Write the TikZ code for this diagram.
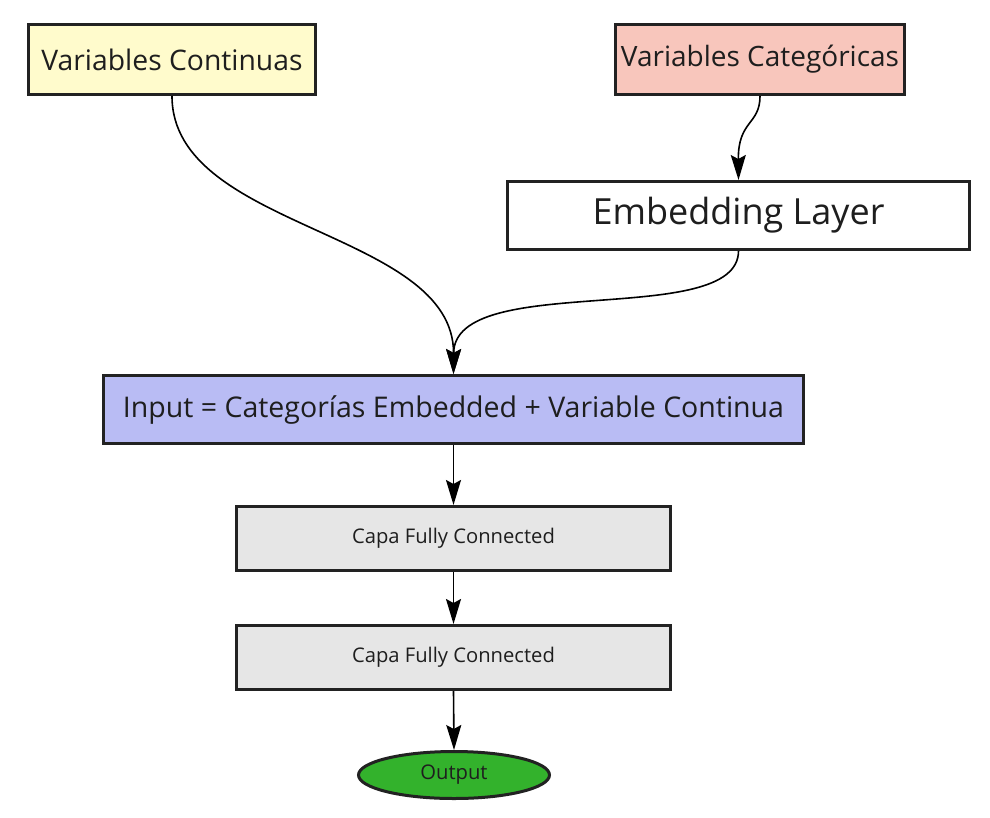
\documentclass[tikz,border=0pt]{standalone}
\usepackage{fontspec}
\setmainfont{Open Sans}
\usetikzlibrary{arrows.meta,shapes.geometric}
\definecolor{cyellow}{RGB}{255,251,204}
\definecolor{cpink}{RGB}{248,198,188}
\definecolor{cblue}{RGB}{185,188,244}
\definecolor{cgray}{RGB}{230,230,230}
\definecolor{cgreen}{RGB}{51,178,44}
\definecolor{cborder}{RGB}{34,34,34}
\definecolor{ctext}{RGB}{30,30,30}
\tikzset{
  box/.style={draw=cborder, line width=3pt, rectangle, inner sep=0pt, text=ctext, align=center},
  conn/.style={line width=1.6pt, -{Stealth[length=25pt,width=15pt,inset=4pt]}},
}
\begin{document}
\begin{tikzpicture}[x=1pt,y=-1pt]
\useasboundingbox (0,0) rectangle (990,817);
\node[box, fill=cyellow, minimum width=287pt, minimum height=70pt, font=\fontsize{28.3}{32}\selectfont] (cont) at (172,59.5) {Variables Continuas};
\node[box, fill=cpink, minimum width=289pt, minimum height=70pt, font=\fontsize{28}{32}\selectfont] (cat) at (760,59.5) {Variables Categóricas};
\node[box, fill=white, minimum width=462pt, minimum height=68pt, font=\fontsize{36}{40}\selectfont] (emb) at (738.5,215.5) {Embedding Layer};
\node[box, fill=cblue, minimum width=700pt, minimum height=68pt, font=\fontsize{28.5}{32}\selectfont] (inp) at (453.5,409.5) {Input = Categorías Embedded + Variable Continua};
\node[box, fill=cgray, minimum width=434pt, minimum height=64pt, font=\fontsize{20.2}{24}\selectfont] (fc1) at (453.5,538.5) {Capa Fully Connected};
\node[box, fill=cgray, minimum width=434pt, minimum height=64pt, font=\fontsize{20.2}{24}\selectfont] (fc2) at (453.5,657.5) {Capa Fully Connected};
\node[draw=cborder, line width=3pt, ellipse, fill=cgreen, inner sep=0pt, minimum width=191pt, minimum height=47pt, text=ctext, font=\fontsize{20.2}{24}\selectfont] (out) at (454,775) {Output};

\draw[conn] (cont.south) .. controls (172,230) and (454,230) .. (inp.north);
\draw[conn] (cat.south) .. controls (760,125) and (738,120) .. (emb.north);
\draw[conn] (emb.south) .. controls (738,330) and (454,270) .. (inp.north);
\draw[conn] (inp.south) -- (fc1.north);
\draw[conn] (fc1.south) -- (fc2.north);
\draw[conn] (fc2.south) -- (out.north);
\end{tikzpicture}
\end{document}
